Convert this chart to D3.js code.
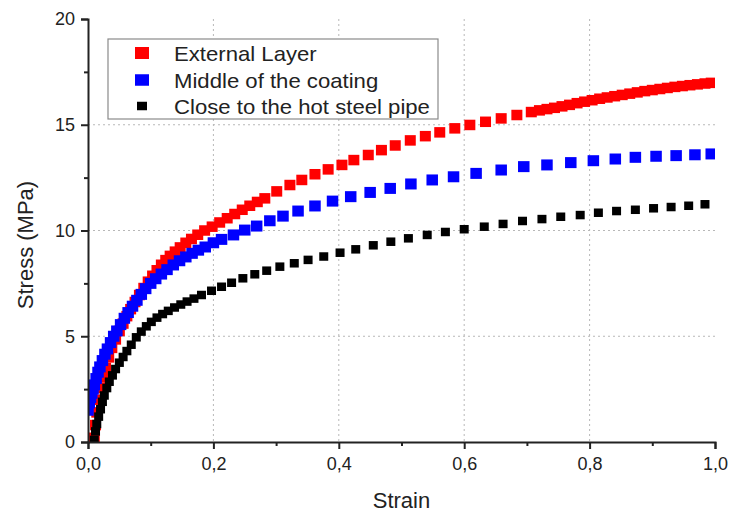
<!DOCTYPE html>
<html>
<head>
<meta charset="utf-8">
<script src="https://cdn.jsdelivr.net/npm/d3@7"></script>
<style>
  html, body { margin: 0; padding: 0; background: #fff; }
  svg { display: block; }
  text { font-family: "Liberation Sans", Arial, sans-serif; fill: #222; }
</style>
</head>
<body>
<svg id="chart" width="732" height="515"></svg>
<script>
// ---------------- DATA ----------------
const seriesNames = ["External Layer", "Middle of the coating", "Close to the hot steel pipe"];
const seriesColors = ["#ff0000", "#0000ff", "#000000"];

const strainRed = [0.010,0.012,0.014,0.017,0.020,0.024,0.028,0.033,0.038,0.044,0.050,0.056,0.062,0.068,0.075,0.082,0.089,0.096,0.103,0.110,0.117,0.124,0.131,0.139,0.147,0.156,0.165,0.175,0.186,0.198,0.210,0.222,0.234,0.246,0.258,0.270,0.282,0.301,0.322,0.341,0.362,0.383,0.405,0.424,0.447,0.468,0.490,0.514,0.538,0.561,0.585,0.609,0.634,0.659,0.684,0.707,0.720,0.732,0.744,0.756,0.768,0.780,0.792,0.804,0.816,0.828,0.840,0.852,0.864,0.876,0.888,0.900,0.912,0.924,0.936,0.948,0.960,0.972,0.984,0.994];
const stressRed = [0.2,0.8,1.4,2.0,2.55,3.05,3.5,4.0,4.45,4.85,5.25,5.6,5.95,6.28,6.62,6.95,7.28,7.58,7.86,8.12,8.38,8.6,8.8,9.0,9.2,9.42,9.6,9.8,10.0,10.18,10.38,10.58,10.78,10.98,11.17,11.35,11.52,11.85,12.15,12.39,12.66,12.89,13.10,13.33,13.57,13.8,14.02,14.26,14.46,14.64,14.83,14.99,15.14,15.3,15.46,15.6,15.68,15.74,15.8,15.87,15.94,16.02,16.09,16.16,16.23,16.29,16.35,16.41,16.47,16.53,16.59,16.64,16.69,16.74,16.79,16.83,16.87,16.91,16.95,16.98];

const strainBlue = [0.000,0.002,0.004,0.006,0.008,0.010,0.013,0.016,0.019,0.023,0.027,0.031,0.036,0.041,0.046,0.052,0.058,0.064,0.071,0.078,0.085,0.092,0.100,0.108,0.117,0.126,0.136,0.146,0.156,0.166,0.176,0.187,0.200,0.213,0.232,0.250,0.269,0.290,0.311,0.335,0.362,0.390,0.419,0.450,0.482,0.515,0.549,0.583,0.619,0.659,0.695,0.732,0.770,0.806,0.841,0.873,0.906,0.938,0.968,0.994];
const stressBlue = [1.5,1.85,2.1,2.3,2.5,2.7,3.0,3.3,3.55,3.85,4.15,4.4,4.7,5.0,5.25,5.55,5.85,6.12,6.42,6.7,6.98,7.25,7.5,7.72,7.94,8.15,8.37,8.57,8.75,8.92,9.07,9.22,9.42,9.58,9.79,10.02,10.21,10.46,10.68,10.92,11.16,11.39,11.60,11.80,11.99,12.20,12.39,12.54,12.70,12.86,13.02,13.10,13.21,13.30,13.38,13.46,13.51,13.54,13.58,13.62];

const strainBlack = [0.010,0.012,0.014,0.017,0.020,0.023,0.026,0.030,0.034,0.039,0.044,0.050,0.056,0.062,0.069,0.077,0.085,0.093,0.101,0.110,0.119,0.128,0.138,0.148,0.158,0.169,0.181,0.197,0.213,0.229,0.247,0.266,0.285,0.306,0.329,0.351,0.376,0.402,0.427,0.455,0.483,0.511,0.541,0.570,0.600,0.632,0.662,0.693,0.724,0.754,0.785,0.814,0.843,0.873,0.902,0.930,0.958,0.984];
const stressBlack = [0.1,0.5,0.85,1.2,1.55,1.9,2.2,2.55,2.85,3.15,3.45,3.75,4.02,4.3,4.6,4.95,5.22,5.47,5.68,5.88,6.05,6.2,6.36,6.5,6.64,6.78,6.95,7.15,7.34,7.53,7.74,7.93,8.10,8.29,8.45,8.61,8.77,8.95,9.11,9.30,9.47,9.63,9.79,9.93,10.06,10.18,10.31,10.45,10.54,10.65,10.73,10.84,10.92,10.98,11.05,11.11,11.17,11.24];

const xTicks = [0, 0.2, 0.4, 0.6, 0.8, 1.0];
const xTickLabels = ["0,0", "0,2", "0,4", "0,6", "0,8", "1,0"];
const xMinorTicks = [0.1, 0.3, 0.5, 0.7, 0.9];
const yTicks = [0, 5, 10, 15, 20];
const yTickLabels = ["0", "5", "10", "15", "20"];
const yMinorTicks = [2.5, 7.5, 12.5, 17.5];
const xGrid = [0.2, 0.4, 0.6, 0.8];
const yGrid = [5, 10, 15];
const xTitle = "Strain";
const yTitle = "Stress (MPa)";

// ---------------- LAYOUT ----------------
const svg = d3.select("#chart");
const L = 88, R = 715, T = 19, B = 442;
const x = d3.scaleLinear().domain([0, 1]).range([L, R]);
const y = d3.scaleLinear().domain([0, 20]).range([B, T]);

svg.append("defs").append("clipPath").attr("id", "plotclip")
  .append("rect").attr("x", L).attr("y", T).attr("width", R - L).attr("height", B - T);

// grid
const grid = svg.append("g");
grid.selectAll("line.gx").data(xGrid).enter().append("line")
  .attr("x1", d => x(d)).attr("x2", d => x(d)).attr("y1", T).attr("y2", B)
  .attr("stroke", "#b8b8b8").attr("stroke-width", 1).attr("stroke-dasharray", "2,3");
grid.selectAll("line.gy").data(yGrid).enter().append("line")
  .attr("x1", L).attr("x2", R).attr("y1", d => y(d)).attr("y2", d => y(d))
  .attr("stroke", "#b8b8b8").attr("stroke-width", 1).attr("stroke-dasharray", "2,3");

// series
const series = [
  { sx: strainRed, sy: stressRed, color: seriesColors[0], w: 11, h: 10.5 },
  { sx: strainBlue, sy: stressBlue, color: seriesColors[1], w: 11.5, h: 11 },
  { sx: strainBlack, sy: stressBlack, color: seriesColors[2], w: 9, h: 8.5 }
];
const plotG = svg.append("g").attr("clip-path", "url(#plotclip)");
series.forEach(s => {
  const pts = s.sx.map((v, i) => [v, s.sy[i]]);
  plotG.append("g").selectAll("rect").data(pts).enter().append("rect")
    .attr("x", d => x(d[0]) - s.w / 2)
    .attr("y", d => y(d[1]) - s.h / 2)
    .attr("width", s.w).attr("height", s.h)
    .attr("fill", s.color);
});

// axes
const xAxis = d3.axisBottom(x).tickValues(xTicks).tickSize(7).tickPadding(8)
  .tickFormat((d, i) => xTickLabels[i]);
const gx = svg.append("g").attr("transform", `translate(0,${B})`).call(xAxis);
const yAxis = d3.axisLeft(y).tickValues(yTicks).tickSize(7).tickPadding(6)
  .tickFormat((d, i) => yTickLabels[i]);
const gy = svg.append("g").attr("transform", `translate(${L},0)`).call(yAxis);
const gxm = svg.append("g").attr("transform", `translate(0,${B})`)
  .call(d3.axisBottom(x).tickValues(xMinorTicks).tickSize(4).tickFormat(""));
const gym = svg.append("g").attr("transform", `translate(${L},0)`)
  .call(d3.axisLeft(y).tickValues(yMinorTicks).tickSize(4).tickFormat(""));
[gx, gy, gxm, gym].forEach(g => {
  g.select(".domain").attr("stroke", "#222").attr("stroke-width", 2);
  g.selectAll(".tick line").attr("stroke", "#222").attr("stroke-width", 2);
  g.selectAll(".tick text").attr("font-family", "Liberation Sans, Arial, sans-serif")
    .attr("font-size", 18).attr("fill", "#222");
});
gxm.select(".domain").remove();
gym.select(".domain").remove();

// titles
svg.append("text").attr("x", (L + R) / 2).attr("y", 508)
  .attr("text-anchor", "middle").attr("font-size", 22).text(xTitle);
svg.append("text").attr("transform", "translate(33,245) rotate(-90)")
  .attr("text-anchor", "middle").attr("font-size", 22).text(yTitle);

// legend
const lg = svg.append("g");
lg.append("rect").attr("x", 108).attr("y", 39).attr("width", 330).attr("height", 80)
  .attr("fill", "#fff").attr("stroke", "#8a8a8a").attr("stroke-width", 1.2);
const legendRows = [53, 80, 106];
const legendSizes = [[14, 12], [14, 11.5], [10, 8.5]];
seriesNames.forEach((name, i) => {
  lg.append("rect").attr("x", 142 - legendSizes[i][0] / 2).attr("y", legendRows[i] - legendSizes[i][1] / 2)
    .attr("width", legendSizes[i][0]).attr("height", legendSizes[i][1]).attr("fill", seriesColors[i]);
  lg.append("text").attr("transform", `translate(174,${legendRows[i] + 7.5}) scale(1.08,1)`)
    .attr("font-size", 20.5).text(name);
});
</script>
</body>
</html>
